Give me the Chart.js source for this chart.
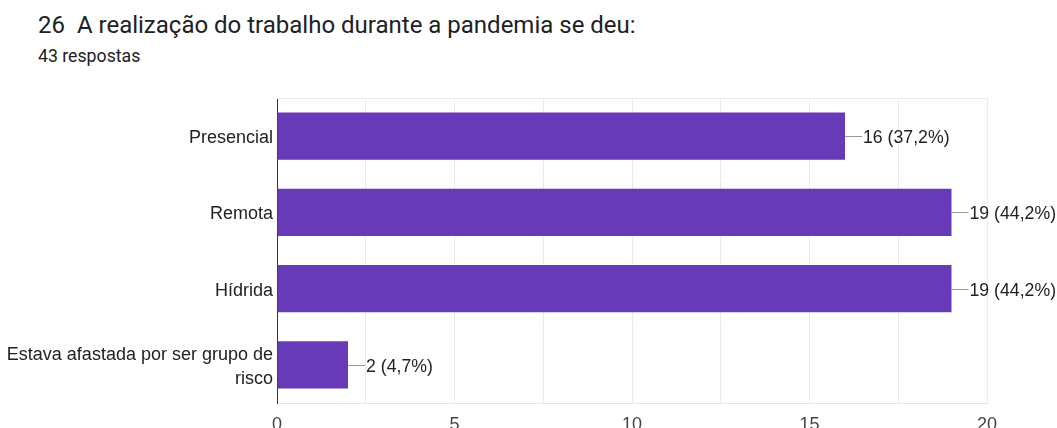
<!DOCTYPE html>
<html>
<head>
<meta charset="utf-8">
<script src="https://cdn.jsdelivr.net/npm/chart.js@4"></script>
<style>
  html, body { margin: 0; padding: 0; background: #fff; }
  #wrap { position: relative; width: 1057px; height: 428px; overflow: hidden; }
  #title { position: absolute; left: 38px; top: 11px; font: 24px Roboto, sans-serif; color: #202124; white-space: pre; }
  #sub { position: absolute; left: 38px; top: 46px; font: 17.7px Roboto, sans-serif; color: #202124; }
  canvas { position: absolute; left: 0; top: 0; }
</style>
</head>
<body>
<div id="wrap">
  <div id="title">26  A realização do trabalho durante a pandemia se deu:</div>
  <div id="sub">43 respostas</div>
  <canvas id="grafico" width="1057" height="428"></canvas>
</div>
<script>
// dados
const categorias = ['Presencial', 'Remota', 'Hídrida', ['Estava afastada por ser grupo de', 'risco']];
const respostas = [16, 19, 19, 2];
const percentuais = ['37,2%', '44,2%', '44,2%', '4,7%'];
const ticksX = [0, 5, 10, 15, 20];

// rótulo com linha guia no fim de cada barra
const rotulos = {
  id: 'rotulos',
  afterDatasetsDraw(chart) {
    const ctx = chart.ctx;
    const meta = chart.getDatasetMeta(0);
    ctx.save();
    ctx.font = '17.7px "Liberation Sans", Arial, sans-serif';
    ctx.fillStyle = '#222';
    ctx.textBaseline = 'middle';
    meta.data.forEach((bar, i) => {
      ctx.strokeStyle = '#999';
      ctx.lineWidth = 1;
      ctx.beginPath();
      ctx.moveTo(bar.x, Math.round(bar.y) + 0.5);
      ctx.lineTo(bar.x + 17, Math.round(bar.y) + 0.5);
      ctx.stroke();
      ctx.fillText(respostas[i] + ' (' + percentuais[i] + ')', bar.x + 18, bar.y + 2);
    });
    // borda superior da área
    const a = chart.chartArea;
    ctx.strokeStyle = '#ebebeb';
    ctx.beginPath();
    ctx.moveTo(a.left, a.top + 0.5);
    ctx.lineTo(a.right, a.top + 0.5);
    ctx.stroke();
    ctx.restore();
  }
};

new Chart(document.getElementById('grafico'), {
  type: 'bar',
  data: {
    labels: categorias,
    datasets: [{
      data: respostas,
      backgroundColor: '#673AB7',
      barPercentage: 0.62,
      categoryPercentage: 1
    }]
  },
  options: {
    indexAxis: 'y',
    responsive: false,
    animation: false,
    layout: { padding: { top: 98, right: 70, left: 0, bottom: 0 } },
    plugins: {
      legend: { display: false },
      tooltip: { enabled: false }
    },
    scales: {
      x: {
        min: 0,
        max: 20,
        afterFit: s => { s.height = 25; },
        afterBuildTicks: s => {
          const t = [];
          for (let v = 0; v <= 20; v += 2.5) t.push({ value: v });
          s.ticks = t;
        },
        ticks: {
          padding: 11,
          color: '#444',
          font: { size: 18, family: '"Liberation Sans", Arial, sans-serif' },
          callback: v => ticksX.includes(v) ? v : ''
        },
        grid: { color: '#ebebeb', drawTicks: false },
        border: { color: '#e6e6e6' }
      },
      y: {
        afterFit: s => { s.width = 277; },
        ticks: {
          padding: 4,
          labelOffset: 2,
          color: '#222',
          font: { size: 18, family: '"Liberation Sans", Arial, sans-serif', lineHeight: 1.3 }
        },
        grid: { display: false, drawTicks: false },
        border: { color: '#333', width: 1 }
      }
    }
  },
  plugins: [rotulos]
});
</script>
</body>
</html>
